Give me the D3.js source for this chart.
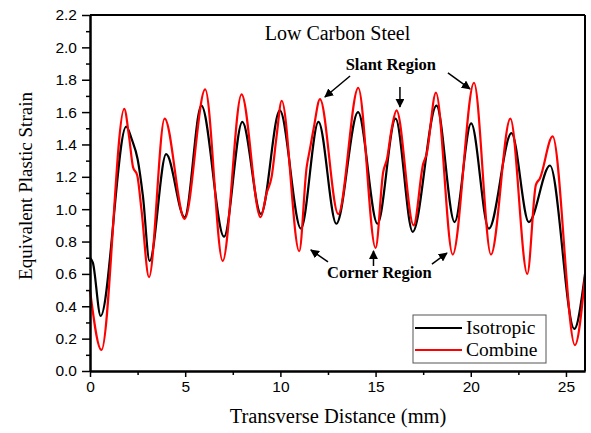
<!DOCTYPE html>
<html>
<head>
<meta charset="utf-8">
<script src="https://cdn.jsdelivr.net/npm/d3@7"></script>
<style>
body { margin: 0; background: #fff; }
svg { display: block; }
</style>
</head>
<body>
<svg id="chart" width="591" height="433"></svg>
<script>
// ---- data ----
const isoX = [0, 0.15, 0.56, 1.9, 2.2, 2.5, 2.78, 3.13, 4.0, 4.97, 5.85, 7.04, 8.0, 8.98, 9.97, 11.08, 12.0, 12.94, 14.08, 15.1, 16.05, 16.95, 18.2, 19.15, 20.02, 20.95, 22.14, 23.05, 24.16, 25.44, 26];
const isoY = [0.70, 0.67, 0.34, 1.51, 1.43, 1.31, 1.08, 0.68, 1.34, 0.95, 1.64, 0.83, 1.54, 0.97, 1.61, 0.88, 1.54, 0.91, 1.60, 0.91, 1.56, 0.86, 1.64, 0.92, 1.53, 0.88, 1.47, 0.92, 1.27, 0.26, 0.60];
const combX = [0, 0.6, 1.8, 2.05, 2.26, 2.48, 2.7, 3.1, 3.92, 4.97, 6.05, 6.97, 7.96, 8.96, 9.28, 9.54, 9.8, 10.07, 10.99, 11.38, 11.55, 11.75, 12.08, 13.04, 14.09, 15.0, 15.4, 15.6, 15.85, 16.1, 17.0, 17.5, 17.68, 18.17, 19.05, 20.17, 21.06, 22.08, 22.97, 23.42, 23.63, 24.3, 25.47, 26];
const combY = [0.50, 0.13, 1.62, 1.45, 1.26, 1.21, 1.00, 0.58, 1.56, 0.94, 1.74, 0.68, 1.71, 0.95, 1.10, 1.20, 1.45, 1.67, 0.74, 1.26, 1.37, 1.50, 1.68, 0.97, 1.75, 0.76, 1.23, 1.31, 1.50, 1.61, 0.90, 1.28, 1.34, 1.72, 0.72, 1.78, 0.72, 1.56, 0.60, 1.15, 1.19, 1.45, 0.16, 0.58];
const seriesNames = ["Isotropic", "Combine"];
const seriesColors = ["#000000", "#ff0000"];
const xMajorTicks = [0, 5, 10, 15, 20, 25];
const xMinorTicks = [2.5, 7.5, 12.5, 17.5, 22.5];
const yMajorTicks = [0.0, 0.2, 0.4, 0.6, 0.8, 1.0, 1.2, 1.4, 1.6, 1.8, 2.0, 2.2];
const yMinorTicks = [0.1, 0.3, 0.5, 0.7, 0.9, 1.1, 1.3, 1.5, 1.7, 1.9, 2.1];
// annotation arrows in data units: [x1, y1, x2, y2] tail -> head
const slantArrows = [[13.66, 1.823, 12.34, 1.693], [18.80, 1.842, 19.96, 1.743], [16.28, 1.755, 16.28, 1.632]];
const cornerArrows = [[12.5, 0.674, 11.6, 0.748], [14.89, 0.649, 14.89, 0.742], [17.96, 0.661, 18.75, 0.729]];

// ---- layout ----
const svg = d3.select("#chart");
const L = 90, R = 585, T = 15, B = 371;
const x = d3.scaleLinear().domain([0, 26]).range([L, R]);
const y = d3.scaleLinear().domain([0, 2.2]).range([B, T]);

const serif = "'Liberation Serif', 'Times New Roman', serif";
const sans = "'Liberation Sans', Arial, sans-serif";

// defs
svg.append("defs").append("marker")
  .attr("id", "ah").attr("viewBox", "0 0 10 10").attr("refX", 9).attr("refY", 5)
  .attr("markerWidth", 6).attr("markerHeight", 6).attr("orient", "auto")
  .append("path").attr("d", "M0,0 L10,5 L0,10 z").attr("fill", "#000");

// curves
const line = d3.line().x(d => x(d[0])).y(d => y(d[1])).curve(d3.curveMonotoneX);
const isoData = isoX.map((v, i) => [v, isoY[i]]);
const combData = combX.map((v, i) => [v, combY[i]]);
svg.append("path").datum(isoData).attr("d", line).attr("fill", "none")
  .attr("stroke", seriesColors[0]).attr("stroke-width", 2.2);
svg.append("path").datum(combData).attr("d", line).attr("fill", "none")
  .attr("stroke", seriesColors[1]).attr("stroke-width", 2.2);

// axes
function styleAxis(g) {
  g.selectAll(".domain").attr("stroke", "#000").attr("stroke-width", 2);
  g.selectAll(".tick line").attr("stroke", "#000").attr("stroke-width", 1.5);
  g.selectAll(".tick text").attr("font-family", sans).attr("font-size", 15.5).attr("fill", "#000");
}
const gx = svg.append("g").attr("transform", `translate(0,${B})`)
  .call(d3.axisBottom(x).tickValues(xMajorTicks).tickSize(6).tickSizeOuter(0).tickPadding(4).tickFormat(d3.format("d")));
styleAxis(gx);
const gxm = svg.append("g").attr("transform", `translate(0,${B})`)
  .call(d3.axisBottom(x).tickValues(xMinorTicks).tickSize(4).tickSizeOuter(0).tickFormat(""));
styleAxis(gxm);
const gy = svg.append("g").attr("transform", `translate(${L},0)`)
  .call(d3.axisLeft(y).tickValues(yMajorTicks).tickSize(8).tickSizeOuter(0).tickPadding(5).tickFormat(d3.format(".1f")));
styleAxis(gy);
const gym = svg.append("g").attr("transform", `translate(${L},0)`)
  .call(d3.axisLeft(y).tickValues(yMinorTicks).tickSize(4).tickSizeOuter(0).tickFormat(""));
styleAxis(gym);
// top and right frame
svg.append("line").attr("x1", L).attr("x2", R).attr("y1", T).attr("y2", T).attr("stroke", "#000").attr("stroke-width", 2);
svg.append("line").attr("x1", R).attr("x2", R).attr("y1", T).attr("y2", B).attr("stroke", "#000").attr("stroke-width", 2);

// axis titles
svg.append("text").attr("x", 338).attr("y", 423).attr("text-anchor", "middle")
  .attr("font-family", serif).attr("font-size", 20.5).text("Transverse Distance (mm)");
svg.append("text").attr("transform", `translate(32,186) rotate(-90)`).attr("text-anchor", "middle")
  .attr("font-family", serif).attr("font-size", 19).text("Equivalent Plastic Strain");

// annotations
svg.append("text").attr("x", x(13.0)).attr("y", y(2.046)).attr("text-anchor", "middle")
  .attr("font-family", serif).attr("font-size", 20).text("Low Carbon Steel");
svg.append("text").attr("x", x(15.8)).attr("y", y(1.86)).attr("text-anchor", "middle")
  .attr("font-family", serif).attr("font-weight", "bold").attr("font-size", 16.5).text("Slant Region");
svg.append("text").attr("x", x(15.2)).attr("y", y(0.575)).attr("text-anchor", "middle")
  .attr("font-family", serif).attr("font-weight", "bold").attr("font-size", 16.5).text("Corner Region");
svg.selectAll("line.arrow").data(slantArrows.concat(cornerArrows)).enter().append("line")
  .attr("class", "arrow")
  .attr("x1", d => x(d[0])).attr("y1", d => y(d[1])).attr("x2", d => x(d[2])).attr("y2", d => y(d[3]))
  .attr("stroke", "#000").attr("stroke-width", 1.5).attr("marker-end", "url(#ah)");

// legend
const lg = svg.append("g");
lg.append("rect").attr("x", 413).attr("y", 315).attr("width", 133).attr("height", 48)
  .attr("fill", "#fff").attr("stroke", "#555").attr("stroke-width", 1);
seriesNames.forEach((n, i) => {
  const yy = 328 + i * 22;
  lg.append("line").attr("x1", 415).attr("x2", 462).attr("y1", yy).attr("y2", yy)
    .attr("stroke", seriesColors[i]).attr("stroke-width", 2.2);
  lg.append("text").attr("x", 466).attr("y", yy + 6).attr("font-family", serif).attr("font-size", 19.5)
    .text(n);
});
</script>
</body>
</html>
